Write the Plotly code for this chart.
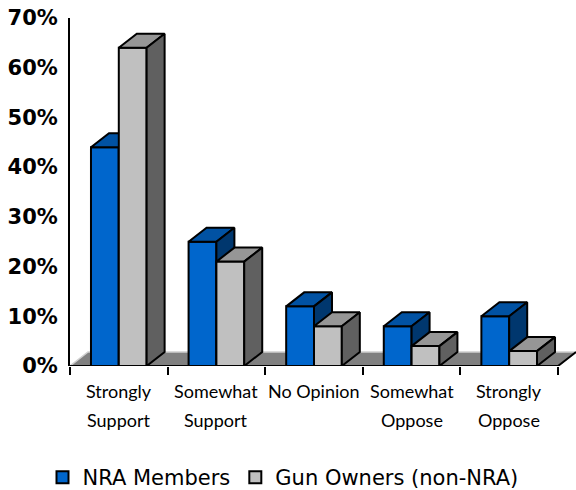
import plotly.graph_objects as go

# ---- data ----
categories = ["Strongly Support", "Somewhat Support", "No Opinion", "Somewhat Oppose", "Strongly Oppose"]
x_tick_labels = ["Strongly<br>Support", "Somewhat<br>Support", "No Opinion", "Somewhat<br>Oppose", "Strongly<br>Oppose"]
nra_members = [44, 25, 12, 8, 10]
gun_owners = [64, 21, 8, 4, 3]
y_tick_values = [0, 10, 20, 30, 40, 50, 60, 70]
y_tick_labels = [f"{v}%" for v in y_tick_values]
series_names = ["NRA Members", "Gun Owners (non-NRA)"]

# ---- styling / geometry ----
W, H = 576, 490
ML, MR, MT, MB = 70, 0, 18, 124
plot_w = W - ML - MR
plot_h = H - MT - MB
n = len(categories)
depth_px_x, depth_px_y = 18, 14
dx = depth_px_x * n / (plot_w - depth_px_x)
y_max = 70
dy = depth_px_y * y_max / plot_h
bar_w = 0.285

colors = {
    "NRA Members": {"front": "#0066CC", "top": "#0152A3", "side": "#00376E"},
    "Gun Owners (non-NRA)": {"front": "#C0C0C0", "top": "#969696", "side": "#606060"},
}
EDGE = dict(color="black", width=2)

fig = go.Figure()


def add_poly(xs, ys, fill, line=EDGE):
    fig.add_trace(go.Scatter(x=xs, y=ys, mode="lines", fill="toself", fillcolor=fill,
                             line=line, hoverinfo="skip", showlegend=False))


# floor
add_poly([0, n, n + dx, dx, 0], [0, 0, dy, dy, 0], "#808080", line=dict(color="#d0d0d0", width=1.5))
fig.add_trace(go.Scatter(x=[0, n, n + dx], y=[0, 0, dy], mode="lines",
                         line=dict(color="black", width=2), hoverinfo="skip", showlegend=False))

# bars: front, top, side faces computed from values
for si, (name, vals) in enumerate(zip(series_names, [nra_members, gun_owners])):
    c = colors[name]
    fx, fy, tx, ty, sx, sy = [], [], [], [], [], []
    for i, v in enumerate(vals):
        x0 = i + 0.5 - bar_w + si * bar_w
        x1 = x0 + bar_w
        fx += [x0, x1, x1, x0, x0, None]
        fy += [0, 0, v, v, 0, None]
        tx += [x0, x1, x1 + dx, x0 + dx, x0, None]
        ty += [v, v, v + dy, v + dy, v, None]
        sx += [x1, x1 + dx, x1 + dx, x1, x1, None]
        sy += [0, dy, v + dy, v, 0, None]
    add_poly(fx, fy, c["front"])
    add_poly(tx, ty, c["top"])
    add_poly(sx, sy, c["side"])

# legend-only entries
for name in series_names:
    fig.add_trace(go.Bar(x=[None], y=[None], name=name,
                         marker=dict(color=colors[name]["front"], line=dict(color="black", width=2))))

# category labels (two-line, wide line spacing)
for i, lab in enumerate(x_tick_labels):
    for k, part in enumerate(lab.split("<br>")):
        fig.add_annotation(x=i + 0.5, y=0, xref="x", yref="y", text=part, showarrow=False,
                           yanchor="top", xanchor="center", yshift=-12 - 29 * k,
                           font=dict(family="Lato", size=18, color="black"))

fig.update_layout(
    width=W, height=H,
    margin=dict(l=ML, r=MR, t=MT, b=MB, autoexpand=False),
    paper_bgcolor="white", plot_bgcolor="white",
    showlegend=True,
    legend=dict(orientation="h", xref="container", x=0.5 - 5 / W, xanchor="center",
                yref="container", y=1 - 457 / H, yanchor="top",
                font=dict(family="DejaVu Sans", size=21, color="black"),
                itemclick=False, traceorder="normal", itemwidth=30),
    xaxis=dict(range=[0, n + dx], tickvals=list(range(n + 1)), showticklabels=False,
               ticks="outside", ticklen=8, tickwidth=2, tickcolor="black", automargin=False,
               showline=False, showgrid=False, zeroline=False, fixedrange=True),
    yaxis=dict(range=[0, y_max], tickvals=y_tick_values, ticktext=y_tick_labels,
               ticks="", showline=True, linewidth=2, linecolor="black", automargin=False,
               showgrid=False, zeroline=False, ticklabelstandoff=6,
               tickfont=dict(family="DejaVu Sans", size=21, color="black", weight="bold"),
               fixedrange=True),
)

fig.write_html("out.html", config={"displayModeBar": False},
               post_script="document.body.style.margin='0';document.body.style.overflow='hidden';")
